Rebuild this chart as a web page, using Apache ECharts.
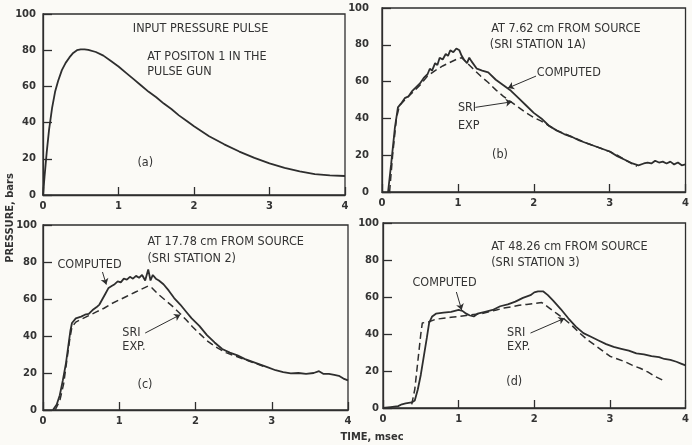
<!DOCTYPE html>
<html>
<head>
<meta charset="utf-8">
<script src="https://cdn.jsdelivr.net/npm/echarts@6/dist/echarts.min.js"></script>
<style>
  html, body { margin: 0; padding: 0; background: #fbfaf6; }
  #main { width: 692px; height: 445px; }
</style>
</head>
<body>
<div id="main"></div>
<script>
// axis ticks (time in msec, pressure in bars)
const timeTicks = [0, 1, 2, 3, 4];
const pressureTicks = [0, 20, 40, 60, 80, 100];

// (a) input pressure pulse
const pulseA = [[0,0],[0.02,10],[0.05,24],[0.08,36],[0.12,48],[0.16,57],[0.2,63],[0.25,69],[0.3,73],[0.35,76],
  [0.4,78.5],[0.45,80],[0.5,80.5],[0.55,80.5],[0.6,80.2],[0.7,79],[0.8,77],[0.9,74],[1.0,71],[1.1,67.5],
  [1.2,64],[1.3,60.5],[1.4,57],[1.5,54],[1.6,50.5],[1.7,47.5],[1.8,44],[1.9,41],[2.0,38],[2.2,32.5],
  [2.4,28],[2.6,24],[2.8,20.5],[3.0,17.5],[3.2,15],[3.4,13],[3.6,11.5],[3.8,10.8],[4.0,10.5]];

// (b) 7.62 cm from source
const computedB = [[0.08,0],[0.12,15],[0.17,35],[0.21,46],[0.25,48],[0.3,51],[0.35,52],[0.4,55],[0.45,57],[0.5,59],
  [0.55,62],[0.6,64],[0.63,67],[0.66,66],[0.7,70],[0.73,69],[0.76,73],[0.8,72],[0.84,75],[0.87,74],[0.9,77],
  [0.94,76],[0.98,78],[1.02,77],[1.05,74],[1.08,72],[1.12,70],[1.15,73],[1.18,71],[1.25,67],[1.32,66],[1.4,65],
  [1.5,61],[1.6,58],[1.7,55],[1.8,51],[1.9,47],[2.0,43],[2.1,40],[2.2,36],[2.3,33.5],[2.4,31.5],[2.5,30],
  [2.6,28],[2.7,26.5],[2.8,25],[2.9,23.5],[3.0,22],[3.1,19.5],[3.2,17.5],[3.3,15.5],[3.38,14.5],[3.45,15.5],
  [3.5,16],[3.55,15.5],[3.6,17],[3.65,16],[3.7,16.5],[3.75,15.5],[3.8,16.5],[3.85,15],[3.9,16],[3.95,14.5],[4.0,15]];
const expB = [[0.1,0],[0.14,20],[0.19,40],[0.23,47],[0.3,50],[0.4,54],[0.5,58],[0.6,63],[0.7,66],[0.8,68.5],
  [0.9,70.5],[1.0,72.5],[1.05,73],[1.1,71],[1.2,67],[1.3,63],[1.4,59.5],[1.5,55.5],[1.6,52],[1.7,49],[1.8,46],
  [1.9,43],[2.0,40.5],[2.1,38.5],[2.2,36],[2.3,33.5],[2.5,30],[2.7,26.5],[2.9,23.5],[3.0,22],[3.1,20],[3.2,17.5],[3.36,14]];

// (c) 17.78 cm from source
const computedC = [[0.13,0],[0.18,3],[0.22,8],[0.26,16],[0.3,25],[0.33,34],[0.36,43],[0.38,47],[0.43,49.5],[0.5,50.5],
  [0.55,51.5],[0.6,52],[0.65,54],[0.7,55.5],[0.74,57],[0.78,60],[0.82,63],[0.86,66],[0.9,67],[0.94,68],[0.98,69.5],
  [1.02,69],[1.06,71],[1.1,70.5],[1.14,72],[1.18,71],[1.22,72.5],[1.26,71.5],[1.3,73],[1.34,70],[1.38,76],[1.41,70],
  [1.44,73],[1.48,71],[1.52,70],[1.58,68],[1.65,64.5],[1.72,60.5],[1.8,57],[1.88,53],[1.95,49.5],[2.05,45.5],
  [2.15,40.5],[2.25,36.5],[2.35,33],[2.45,31],[2.55,29.5],[2.65,27.5],[2.75,26],[2.85,24.5],[2.95,23],[3.05,21.5],
  [3.15,20.5],[3.25,19.8],[3.35,20],[3.45,19.5],[3.55,20],[3.62,21],[3.68,19.5],[3.75,19.5],[3.82,19],[3.88,18.5],
  [3.94,17],[4.0,16]];
const expC = [[0.16,0],[0.22,5],[0.27,14],[0.31,26],[0.35,38],[0.38,45],[0.43,47.5],[0.5,49],[0.6,51],[0.7,53],
  [0.8,55],[0.9,57.5],[1.0,59.5],[1.1,61.5],[1.2,63.5],[1.3,65.5],[1.38,67],[1.43,66],[1.5,63],[1.6,59.5],
  [1.7,56],[1.8,52],[1.88,48.6],[1.96,45],[2.05,41.4],[2.15,37.5],[2.27,34],[2.4,31],[2.5,29.5],[2.6,28],
  [2.7,26.5],[2.8,25],[2.9,23.5]];

// (d) 48.26 cm from source
const computedD = [[0,0],[0.1,0.5],[0.2,1],[0.25,2],[0.3,2.5],[0.38,3],[0.42,4],[0.46,10],[0.5,18],[0.54,28],
  [0.58,38],[0.61,46],[0.65,49.5],[0.7,51],[0.8,51.5],[0.9,52],[1.0,53],[1.05,52.5],[1.1,51],[1.15,50],[1.2,49.5],
  [1.25,51],[1.35,52],[1.45,53],[1.55,55],[1.65,56],[1.75,57.5],[1.85,59.5],[1.95,61],[2.0,62.5],[2.05,63],
  [2.12,63],[2.18,61],[2.25,58],[2.35,53.5],[2.45,48.5],[2.55,44],[2.65,40.5],[2.75,38.5],[2.85,36.5],[2.95,34.5],
  [3.05,33],[3.15,32],[3.25,31],[3.35,29.5],[3.45,29],[3.55,28],[3.65,27.5],[3.72,26.5],[3.8,26],[3.88,25],
  [3.94,24],[4.0,23]];
const expD = [[0.38,2],[0.42,10],[0.46,25],[0.5,40],[0.52,46],[0.6,46.5],[0.7,48],[0.8,48.5],[0.9,49],[1.0,49.5],
  [1.1,50],[1.2,50.5],[1.3,51],[1.4,52],[1.5,53],[1.6,54],[1.7,54.7],[1.8,55.5],[1.9,56],[2.0,56.5],[2.1,57],
  [2.2,54],[2.3,51],[2.4,48],[2.5,44.5],[2.6,40.5],[2.7,37],[2.8,34],[2.9,31],[3.0,28],[3.1,26.5],[3.2,25],
  [3.3,23],[3.4,21.5],[3.5,19.5],[3.6,17],[3.7,15]];

// annotation text, placed in data units of each panel
const notes = [
  {grid: 0, at: [1.19, 91.7], text: 'INPUT PRESSURE PULSE'},
  {grid: 0, at: [1.38, 76.2], text: 'AT POSITON 1 IN THE'},
  {grid: 0, at: [1.38, 68], text: 'PULSE GUN'},
  {grid: 0, at: [1.25, 17.7], text: '(a)'},
  {grid: 1, at: [1.44, 88.6], text: 'AT 7.62 cm FROM SOURCE'},
  {grid: 1, at: [1.42, 79.9], text: '(SRI STATION 1A)'},
  {grid: 1, at: [2.04, 64.7], text: 'COMPUTED'},
  {grid: 1, at: [1.0, 45.7], text: 'SRI'},
  {grid: 1, at: [1.0, 35.9], text: 'EXP'},
  {grid: 1, at: [1.45, 20], text: '(b)'},
  {grid: 2, at: [1.37, 90.8], text: 'AT 17.78 cm FROM SOURCE'},
  {grid: 2, at: [1.37, 81.6], text: '(SRI STATION 2)'},
  {grid: 2, at: [0.19, 78.4], text: 'COMPUTED'},
  {grid: 2, at: [1.04, 41.6], text: 'SRI'},
  {grid: 2, at: [1.04, 34], text: 'EXP.'},
  {grid: 2, at: [1.24, 13.5], text: '(c)'},
  {grid: 3, at: [1.43, 87], text: 'AT 48.26 cm FROM SOURCE'},
  {grid: 3, at: [1.43, 78.4], text: '(SRI STATION 3)'},
  {grid: 3, at: [0.39, 67.6], text: 'COMPUTED'},
  {grid: 3, at: [1.64, 40.5], text: 'SRI'},
  {grid: 3, at: [1.64, 33], text: 'EXP.'},
  {grid: 3, at: [1.63, 14], text: '(d)'}
];

// leader arrows: [from, to] in data units
const arrowsB = {computed: [[2.03, 63], [1.66, 56.5]], exp: [[1.23, 46], [1.71, 49]]};
const arrowsC = {computed: [[0.78, 74.6], [0.83, 67.8]], exp: [[1.34, 41.6], [1.8, 51.5]]};
const arrowsD = {computed: [[0.97, 62.7], [1.04, 53]], exp: [[1.95, 40.5], [2.4, 48.5]]};

const ink = '#2e2e2e';
const fontText = '"DejaVu Sans Condensed", "Liberation Sans Narrow", sans-serif';

const grids = [
  {left: 43, top: 14, width: 302, height: 181},
  {left: 382, top: 8, width: 308, height: 184},
  {left: 43, top: 225, width: 305, height: 185},
  {left: 383, top: 223, width: 308, height: 185}
];
const yLabelMargin = [7, 13, 6, 4];

function makeX(i){
  return {
    type: 'value', gridIndex: i, min: timeTicks[0], max: timeTicks[timeTicks.length - 1], interval: 1,
    axisLine: {show: true, onZero: false, lineStyle: {color: ink, width: 1.3}},
    axisTick: {show: true, inside: true, length: 8, lineStyle: {color: ink, width: 1.3}},
    axisLabel: {color: '#333', fontSize: 10, fontWeight: 'bold', fontFamily: 'DejaVu Sans', margin: 6},
    splitLine: {show: false}
  };
}
function makeY(i){
  return {
    type: 'value', gridIndex: i, min: pressureTicks[0], max: pressureTicks[pressureTicks.length - 1], interval: 20,
    axisLine: {show: true, onZero: false, lineStyle: {color: ink, width: 1.3}},
    axisTick: {show: true, inside: true, length: 9, lineStyle: {color: ink, width: 1.3}},
    axisLabel: {color: '#333', fontSize: 10, fontWeight: 'bold', fontFamily: 'DejaVu Sans', margin: yLabelMargin[i]},
    splitLine: {show: false}
  };
}
function arrowLine(pair){
  return [{coord: pair[0]}, {coord: pair[1]}];
}
function solid(i, data, arrows){
  let s = {
    type: 'line', xAxisIndex: i, yAxisIndex: i, data: data, showSymbol: false, animation: false,
    lineStyle: {color: ink, width: 1.8}
  };
  if(arrows){
    s.markLine = {
      silent: true, symbol: ['none', 'arrow'], symbolSize: 6, animation: false,
      label: {show: false}, lineStyle: {color: ink, width: 1, type: 'solid'},
      data: [arrowLine(arrows.computed), arrowLine(arrows.exp)]
    };
  }
  return s;
}
function dashed(i, data){
  return {
    type: 'line', xAxisIndex: i, yAxisIndex: i, data: data, showSymbol: false, animation: false,
    lineStyle: {color: ink, width: 1.5, type: [7, 4]}
  };
}

const chart = echarts.init(document.getElementById('main'));
chart.setOption({
  backgroundColor: '#fbfaf6',
  animation: false,
  grid: grids.map(g => Object.assign({show: true, borderColor: ink, borderWidth: 1.3, backgroundColor: 'transparent'}, g)),
  xAxis: [0, 1, 2, 3].map(makeX),
  yAxis: [0, 1, 2, 3].map(makeY),
  series: [
    solid(0, pulseA),
    solid(1, computedB, arrowsB), dashed(1, expB),
    solid(2, computedC, arrowsC), dashed(2, expC),
    solid(3, computedD, arrowsD), dashed(3, expD)
  ]
});

// place the annotation text through the panel axes
let graphics = notes.map(n => {
  let p = chart.convertToPixel({gridIndex: n.grid}, n.at);
  return {
    type: 'text', x: p[0], y: p[1], silent: true,
    style: {text: n.text, fill: '#333', font: '12.5px ' + fontText, verticalAlign: 'middle'}
  };
});
graphics.push({
  type: 'text', x: 10, y: 218, rotation: Math.PI / 2, silent: true,
  style: {text: 'PRESSURE, bars', fill: '#333', font: 'bold 11px ' + fontText, align: 'center', verticalAlign: 'middle'}
});
graphics.push({
  type: 'text', x: 372, y: 437, silent: true,
  style: {text: 'TIME, msec', fill: '#333', font: 'bold 11px ' + fontText, align: 'center', verticalAlign: 'middle'}
});
chart.setOption({graphic: graphics});
</script>
</body>
</html>
